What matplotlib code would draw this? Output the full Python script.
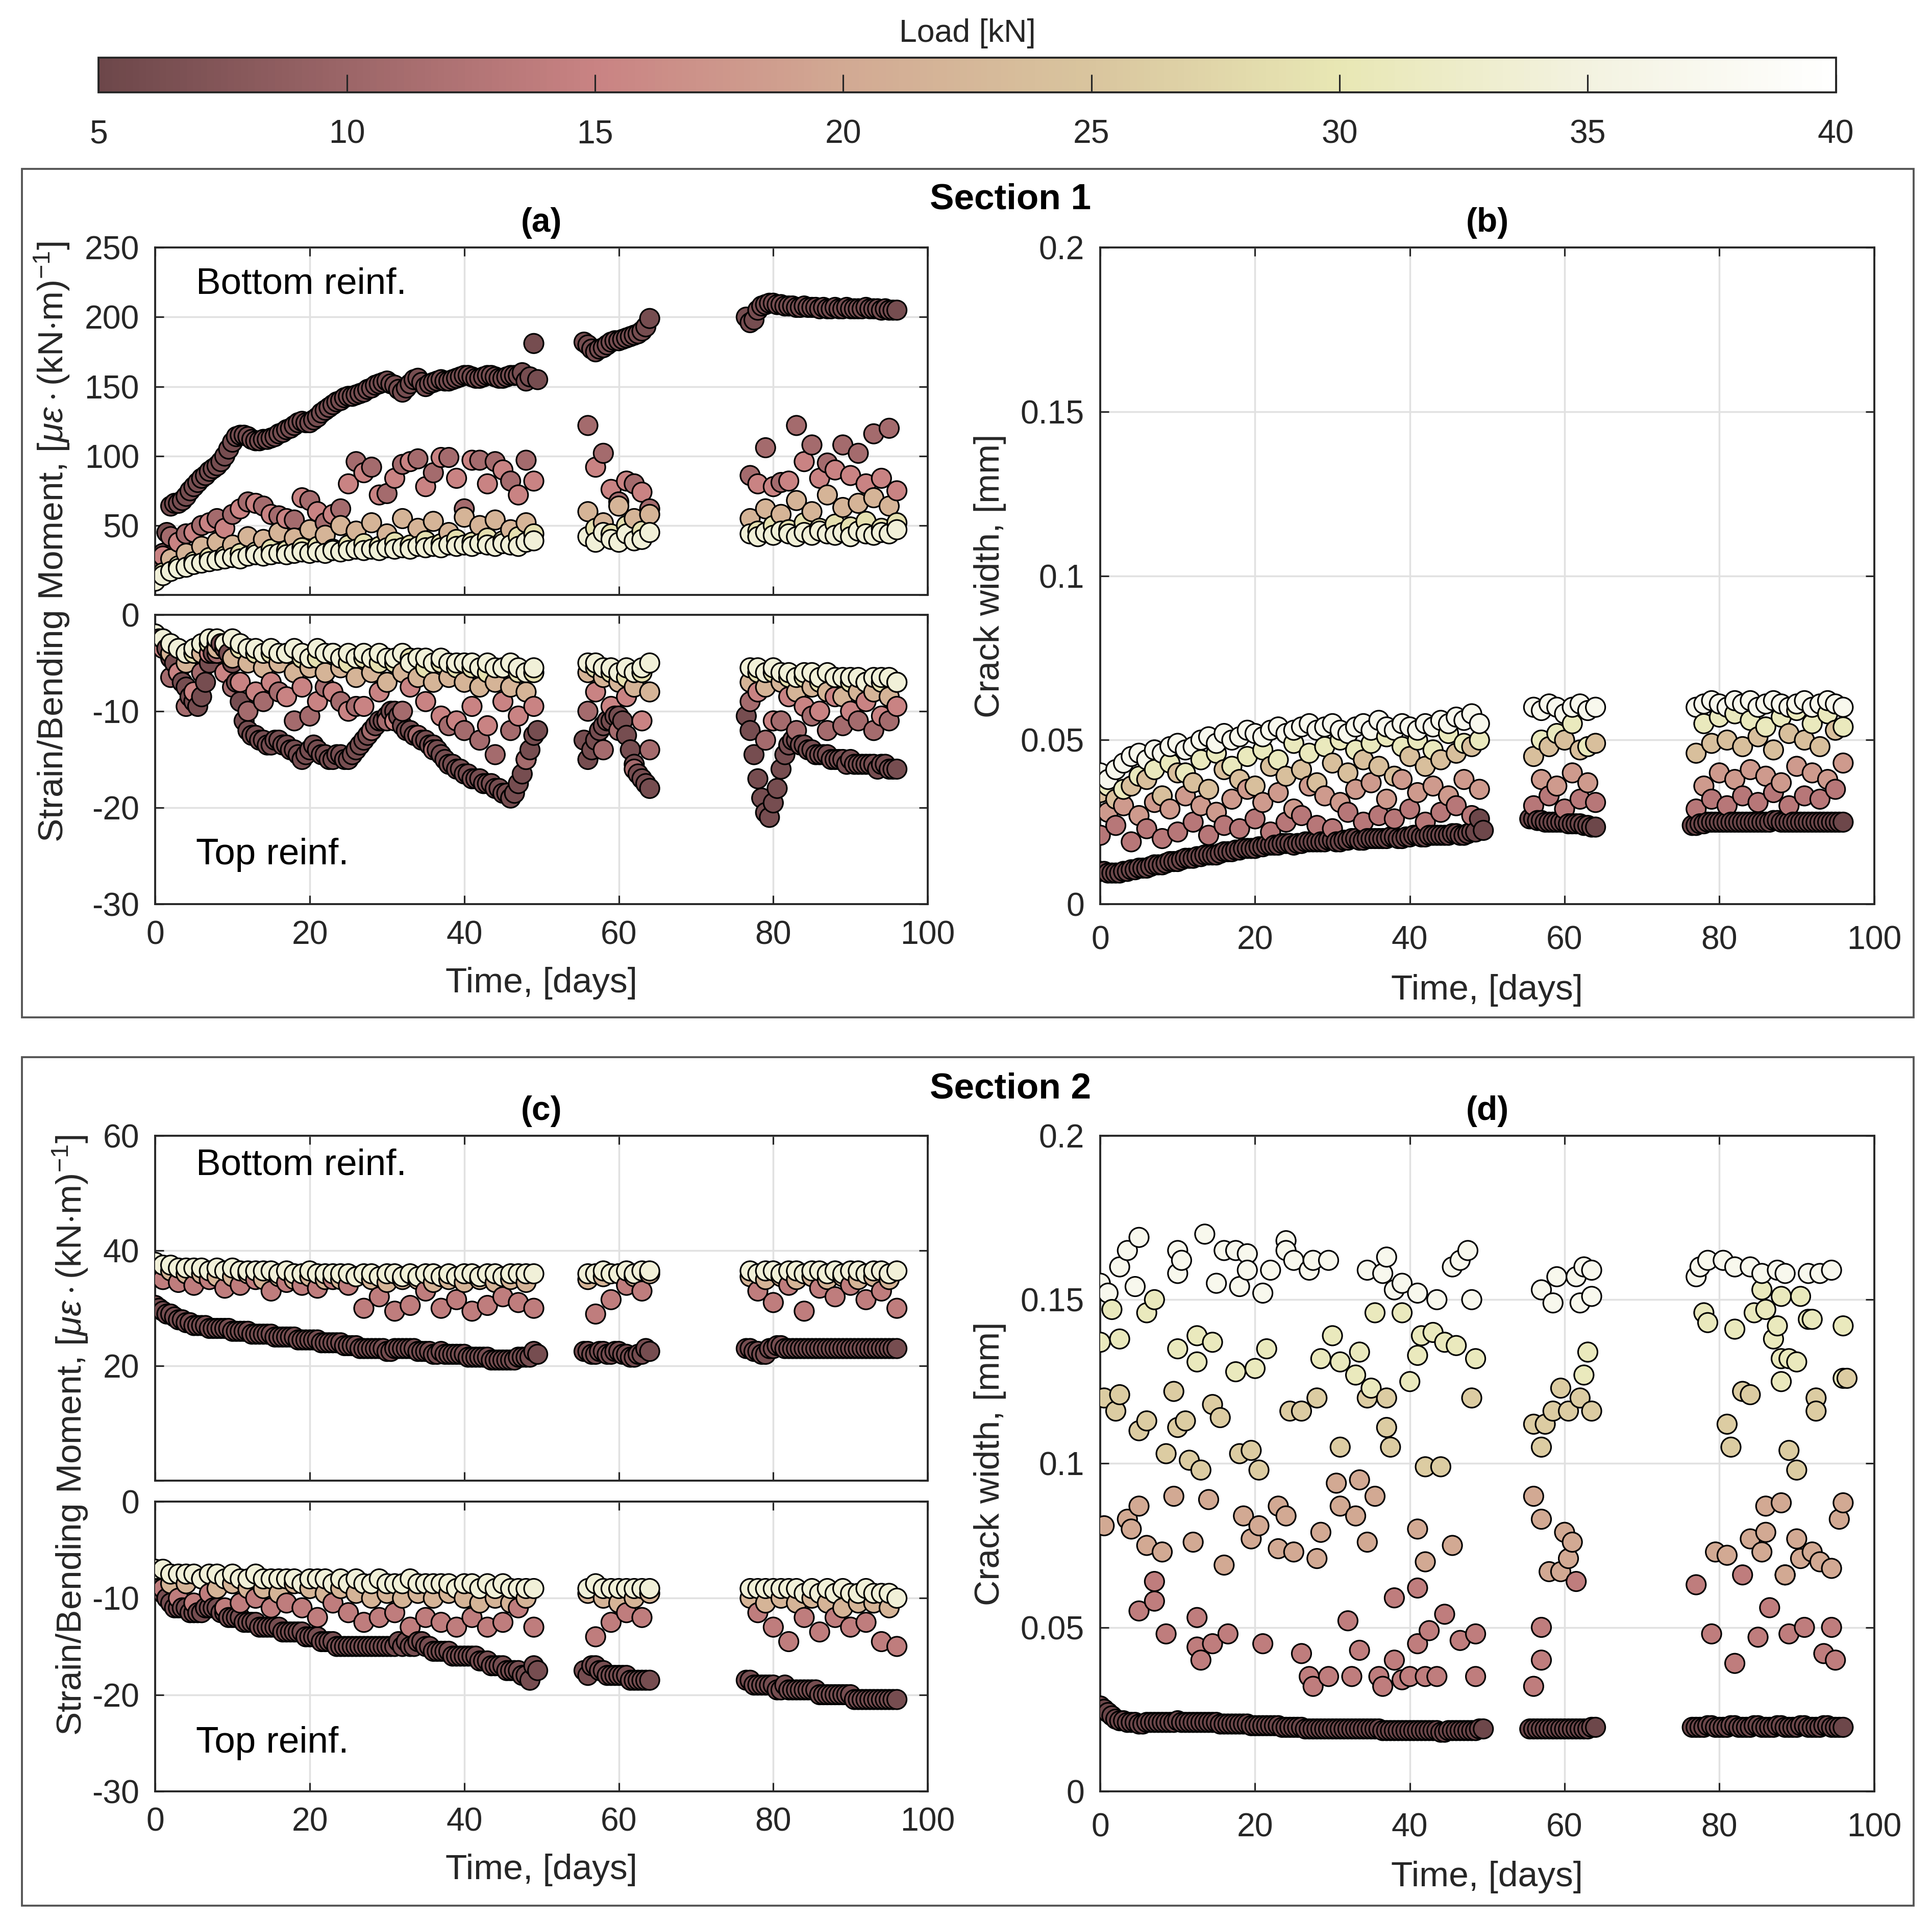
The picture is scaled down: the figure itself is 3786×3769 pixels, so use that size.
import numpy as np
import matplotlib
matplotlib.use('Agg')
import matplotlib.pyplot as plt
from matplotlib.colors import LinearSegmentedColormap, Normalize
from matplotlib.cm import ScalarMappable
from matplotlib.patches import Rectangle

plt.rcParams['font.family'] = ['Liberation Sans', 'DejaVu Sans']
plt.rcParams['mathtext.fontset'] = 'custom'
plt.rcParams['mathtext.rm'] = 'Liberation Sans'
plt.rcParams['mathtext.it'] = 'Liberation Sans:italic'
plt.rcParams['axes.unicode_minus'] = False

# ---------------- colour scale (load, kN) ----------------
cbar_loads = [5, 10, 15, 20, 25, 30, 35, 40]
cbar_colors = ['#6d474a', '#9c6668', '#c98383', '#d2a993', '#d9c59e',
               '#e8e7b4', '#f3f2e0', '#ffffff']

# ---------------- measurement days ----------------
# the 5 kN readings are logged every half day
days_half = np.concatenate([np.arange(0, 50, 0.5), np.arange(55.5, 64.5, 0.5),
                            np.arange(76.5, 96.5, 0.5)])
days = [0, 1, 2, 3, 4, 5, 6, 7, 8, 9, 10, 11, 12, 13, 14, 15, 16, 17, 18, 19,
        20, 21, 22, 23, 24, 25, 26, 27, 28, 29, 30, 31, 32, 33, 34, 35, 36, 37, 38, 39,
        40, 41, 42, 43, 44, 45, 46, 47, 48, 49,
        56, 57, 58, 59, 60, 61, 62, 63, 64,
        77, 78, 79, 80, 81, 82, 83, 84, 85, 86, 87, 88, 89, 90, 91, 92, 93, 94, 95, 96]
days_even = [0, 2, 4, 6, 8, 10, 12, 14, 16, 18, 20, 22, 24, 26, 28, 30, 32, 34, 36, 38,
             40, 42, 44, 46, 48,
             56, 58, 60, 62, 64,
             77, 79, 81, 83, 85, 87, 89, 91, 93, 95]
days_odd = [1, 3, 5, 7, 9, 11, 13, 15, 17, 19, 21, 23, 25, 27, 29, 31, 33, 35, 37, 39,
            41, 43, 45, 47, 49,
            57, 59, 61, 63,
            78, 80, 82, 84, 86, 88, 90, 92, 94, 96]

# ---------------- Section 1 ----------------
s1_loads = {'dark': 6, 'rose': 11, 'pink': 15, 'tan': 22, 'yellow': 29, 'pale': 34}

# (a) bottom reinforcement
a_bot_dark = [12, 18, 30, 45, 64, 66, 66, 68, 71, 75, 78, 81, 84, 86, 89, 91, 93, 96, 100, 105,
              110, 114, 115, 115, 114, 112, 111, 111, 112, 112, 113, 114, 116, 117, 119, 120,
              122, 124, 125, 124, 124, 126, 128, 131, 133, 135, 137, 139, 140, 142, 143, 143,
              144, 145, 146, 148, 149, 151, 152, 153, 154, 152, 151, 148, 146, 149, 152, 155,
              156, 153, 150, 152, 153, 154, 155, 154, 154, 155, 156, 157, 158, 158, 157, 156,
              156, 157, 158, 158, 157, 156, 156, 157, 158, 158, 158, 160, 154, 157, 181, 155,
              182, 180, 177, 175, 177, 178, 180, 182, 183, 183, 184, 185, 186, 187, 188, 190,
              193, 199,
              200, 196, 198, 205, 208, 209, 210, 210, 209, 209, 208, 208, 208, 207, 207, 208,
              207, 207, 207, 206, 207, 206, 206, 207, 206, 206, 207, 206, 206, 206, 206, 207,
              206, 206, 206, 205, 206, 205, 205, 205]
a_bot_rose = [20, 42, 44, 50, 55, 58, 67, 64, 57, 54, 68, 52, 62, 96, 92, 73, 94, 98, 88, 99,
              62, 97, 96, 82, 97,
              122, 102, 67, 80, 62,
              86, 106, 81, 122, 108, 95, 108, 102, 116, 120]
a_bot_pink = [28, 38, 45, 52, 48, 62, 66, 58, 55, 70, 60, 58, 80, 88, 72, 84, 96, 78, 99, 84,
              97, 80, 90, 72, 82,
              92, 76, 82, 74,
              80, 78, 82, 96, 84, 90, 86, 80, 84, 75]
a_bot_tan = [18, 26, 30, 35, 38, 36, 42, 40, 45, 41, 47, 43, 50, 46, 52, 44, 55, 48, 53, 45,
             56, 50, 54, 47, 52,
             60, 52, 64, 55, 58,
             55, 62, 58, 68, 60, 72, 63, 66, 70, 64]
a_bot_yellow = [16, 21, 24, 27, 28, 30, 31, 33, 32, 34, 35, 33, 36, 37, 35, 38, 36, 39, 37, 40,
                38, 41, 39, 42, 44,
                48, 44, 50, 46,
                46, 50, 47, 52, 48, 51, 49, 53, 48, 52]
a_bot_pale = [10, 14, 17, 19, 20, 22, 23, 24, 25, 26,
              27, 26, 28, 29, 28, 29, 30, 29, 30, 31,
              30, 31, 30, 32, 31, 32, 33, 32, 33, 32,
              34, 33, 34, 33, 35, 34, 35, 34, 36, 35,
              36, 35, 37, 36, 35, 37, 36, 35, 38, 39,
              42, 38, 45, 40, 38, 44, 39, 40, 45,
              44, 42, 45, 43, 46, 44, 42, 45, 43, 46,
              44, 43, 45, 42, 46, 44, 43, 45, 44, 47]

# (a) top reinforcement
a_top_dark = [-2, -2.5, -3, -3.5, -4.5, -5, -6, -7, -7.5, -8.5, -9, -9.5, -8.5, -7, -5, -4,
              -3, -3, -3.5, -4, -5, -7, -9, -11, -12, -12.5, -12.5, -13, -13, -13.5, -13.5,
              -13, -13, -13.5, -13.5, -14, -14, -14.5, -15, -14.5, -14, -13.5, -14, -14.5,
              -14.5, -15, -15, -14.5, -14.5, -15, -15, -14.5, -14, -13.5, -13, -12.5, -12,
              -11.5, -11, -11, -10.5, -10, -10, -10.5, -11.5, -12, -12, -12.5, -12.5, -13,
              -13, -13.5, -13.5, -14, -14.5, -15, -15.5, -15.5, -16, -16, -16.5, -16.5, -17,
              -17, -17, -17.5, -17.5, -17.5, -18, -18, -18.5, -18.5, -19, -18.5, -17.5,
              -16.5, -15, -14, -12.5, -12,
              -13, -15, -14, -13, -12, -11.5, -11, -11, -10.5, -10.5, -11, -12.5, -14, -15.5,
              -16.5, -17, -17.5, -18,
              -10.5, -12, -14.5, -17, -19, -20.5, -21, -19.5, -18, -16, -14.5, -13.5, -13,
              -13, -13.5, -13.5, -14, -14, -14.5, -14.5, -14.5, -14.5, -15, -15, -15, -15,
              -15.5, -15, -15.5, -15.5, -15.5, -15.5, -15.5, -15.5, -16, -15.5, -15.5, -16,
              -16, -16]
a_top_rose = [-3, -6.5, -9.5, -6, -4, -7.5, -10, -9, -8, -11, -10.5, -7.5, -9, -9.5, -12,
              -11, -10, -12.5, -14, -11.5, -12, -13, -14.5, -12, -15,
              -10, -14, -12, -16, -14,
              -9, -13, -11, -12, -10.5, -12, -11.5, -11, -12, -11]
a_top_pink = [-3.5, -6, -8, -4, -6, -7, -8, -7, -8.5, -7.5, -9, -8, -10, -9.5, -8,
              -11, -7.5, -9, -10.5, -11, -9.5, -11.5, -9, -10.5, -9.5,
              -8, -9.5, -8.5, -11,
              -8, -11, -8.5, -9.5, -10, -8.5, -10, -9, -10.5, -9.5]
a_top_tan = [-2.5, -4, -5, -4, -3.5, -4.5, -5, -5.5, -5, -6, -5.5, -6, -5.5, -6.5, -6,
             -7, -6, -6.5, -7, -6.5, -7, -7.5, -7, -7.5, -8,
             -6, -6.5, -7, -7.5, -8,
             -7, -7.5, -7, -8, -7.5, -8, -8.5, -8, -8, -8.5]
a_top_yellow = [-2.5, -3.5, -4, -3, -3, -3.5, -4, -4, -4, -4.5, -4.5, -4, -5, -4.5, -5,
                -5, -4.5, -5.5, -5, -5.5, -5.5, -6, -5.5, -6, -6,
                -5.5, -6, -6.5, -6,
                -6, -6, -6.5, -6.5, -7, -6.5, -7, -7, -7, -7]
a_top_pale = [-2, -2.5, -3, -3.5, -4, -3.5, -3, -2.5, -2.5, -3,
              -2.5, -3, -3.5, -3.5, -4, -3.5, -4, -4, -3.5, -4,
              -4.5, -3.5, -4, -4, -4.5, -4, -4.5, -4, -4.5, -4,
              -4.5, -4.5, -4, -5, -4.5, -4.5, -5, -4.5, -5, -5,
              -5, -5, -5.5, -5, -5.5, -5.5, -5, -5.5, -6, -5.5,
              -5, -5, -5.5, -5.5, -6, -5.5, -6, -5.5, -5,
              -5.5, -5.5, -6, -5.5, -6, -6, -6.5, -6, -6, -6.5,
              -6, -6.5, -6.5, -6.5, -6.5, -7, -6.5, -6.5, -6.5, -7]

# (b) crack width, section 1
b_loads = {'dark': 5, 'pink': 13, 'salmon': 18, 'tan': 24, 'yellow': 31, 'pale': 37}
b_dark = [.010, .010, .0095, .0095, .0095, .0095, .010, .010, .0105, .0105,
          .011, .011, .011, .0115, .012, .012, .012, .0125, .013, .013,
          .013, .0135, .014, .014, .014, .0145, .0145, .015, .015, .015,
          .015, .0155, .016, .016, .016, .0165, .0165, .017, .017, .017,
          .017, .0175, .0175, .018, .018, .018, .018, .0185, .0185, .0185,
          .018, .0185, .0185, .019, .019, .019, .019, .019, .019, .0195,
          .0195, .019, .019, .0195, .0195, .020, .020, .0195, .0195, .020,
          .020, .020, .020, .020, .020, .0205, .0205, .020, .020, .0205,
          .0205, .021, .021, .0205, .0205, .021, .021, .021, .021, .021,
          .021, .0215, .0215, .021, .021, .0215, .022, .022, .026, .0225,
          .026, .026, .0255, .0255, .025, .025, .025, .025, .025, .025, .0245, .0245,
          .0245, .0245, .024, .024, .0235, .0235,
          .024, .024, .0245, .0245, .025, .025, .025, .025, .025, .025, .025, .025,
          .025, .025, .025, .025, .025, .025, .025, .025, .025, .0255, .0255, .025,
          .025, .025, .025, .025, .025, .025, .025, .025, .025, .025, .025, .025,
          .025, .025, .025, .025]
b_pink = [.021, .024, .019, .023, .020, .022, .025, .021, .024, .023, .026, .022, .025,
          .027, .024, .023, .028, .025, .027, .026, .029, .025, .028, .030, .027,
          .030, .033, .029, .032, .031,
          .029, .032, .030, .033, .031, .034, .030, .033, .032, .035]
b_salmon = [.028, .030, .027, .031, .029, .033, .030, .028, .032, .035, .031, .034, .029,
            .036, .033, .031, .035, .037, .032, .038, .034, .036, .033, .038, .035,
            .038, .036, .040, .037,
            .036, .040, .038, .041, .039, .037, .042, .040, .038, .043]
b_tan = [.034, .032, .036, .038, .033, .040, .037, .035, .041, .038, .036, .042, .039,
         .041, .037, .043, .040, .044, .042, .039, .045, .042, .044, .046, .048,
         .045, .048, .050, .047, .049,
         .046, .049, .050, .048, .051, .047, .052, .050, .048, .053]
b_yellow = [.036, .035, .039, .041, .043, .040, .044, .046, .042, .045, .047, .044, .049,
            .046, .048, .050, .047, .049, .051, .048, .050, .047, .052, .049, .050,
            .050, .052, .055, .048,
            .055, .057, .058, .056, .054, .057, .059, .055, .058, .054]
b_pale = [.040, .038, .041, .043, .045, .046, .044, .047, .046, .048,
          .049, .047, .048, .050, .051, .049, .052, .050, .051, .053,
          .052, .051, .053, .054, .052, .053, .054, .055, .053, .054,
          .055, .053, .052, .054, .055, .053, .056, .054, .053, .055,
          .054, .053, .055, .054, .056, .055, .057, .056, .058, .055,
          .060, .059, .061, .060, .058, .060, .061, .059, .060,
          .060, .061, .062, .061, .060, .062, .061, .062, .060, .061,
          .062, .061, .060, .061, .062, .060, .061, .062, .061, .060]

# ---------------- Section 2 ----------------
s2_loads = {'dark': 6, 'pink': 14, 'tan': 22, 'pale': 34}

# (c) bottom reinforcement
c_bot_dark = [30.5, 30, 29.5, 29, 29, 28.5, 28, 28, 27.5, 27.5,
              27, 27, 27, 27, 26.5, 26.5, 26.5, 26.5, 26.5, 26.5,
              26, 26, 26, 26, 26, 25.5, 25.5, 25.5, 25.5, 25.5,
              25.5, 25, 25, 25, 25, 25, 25, 24.5, 24.5, 24.5,
              24.5, 24.5, 24.5, 24, 24, 24, 24, 24, 24, 23.5,
              23.5, 23.5, 23.5, 23, 23, 23, 23, 23, 23, 23,
              22.5, 22.5, 23, 23, 23, 23, 23, 23, 22.5, 22.5,
              22.5, 22.5, 22, 22, 22.5, 22, 22, 22, 22, 22,
              22, 21.5, 21.5, 21.5, 21.5, 21.5, 21.5, 21, 21, 21,
              21, 21, 21, 21, 21.5, 21.5, 21.5, 21.5, 22.5, 22,
              22.5, 22.5, 22, 22, 22.5, 22.5, 22, 22, 22.5, 22.5, 22, 22, 21.5, 21.5,
              22, 22, 23, 22.5,
              23, 23, 22.5, 22.5, 22, 22, 23, 23, 23.5, 23.5, 23, 23, 23, 23, 23, 23,
              23, 23, 23, 23, 23, 23, 23, 23, 23, 23, 23, 23, 23, 23, 23, 23, 23, 23,
              23, 23, 23, 23, 23, 23]
c_bot_pink = [35, 34.5, 34, 35, 33.5, 34, 35, 33, 34.5, 34, 33.5, 35, 34, 30, 32,
              29.5, 30.5, 33, 30, 31.5, 29.5, 30.5, 32, 31, 30,
              29, 31.5, 34, 33,
              33, 31, 34, 29.5, 33.5, 32, 34, 31.5, 33, 30]
c_bot_tan = [37, 36.5, 36, 36, 35.5, 35.5, 36, 35, 35.5, 35, 35.5, 35, 35, 35.5, 35,
             34.5, 35, 35, 34.5, 35, 34.5, 35, 34.5, 35, 34.5,
             35, 35.5, 36, 35.5, 36,
             35.5, 35, 35.5, 35, 35.5, 35, 35.5, 35, 35.5, 35]
c_bot_pale = [38, 37.5, 37.5, 37, 37, 37, 37, 36.5, 37, 36.5,
              37, 36.5, 36.5, 36.5, 36.5, 36.5, 36, 36.5, 36, 36,
              36.5, 36, 36, 36, 36, 36, 35.5, 36, 36, 35.5,
              36, 36, 35.5, 36, 35.5, 36, 36, 35.5, 36, 35.5,
              36, 36, 35.5, 36, 36, 35.5, 36, 36, 36, 36,
              36, 36, 36.5, 36, 36, 36.5, 36, 36.5, 36.5,
              36.5, 36, 36.5, 36.5, 36, 36.5, 36.5, 36, 36.5, 36.5,
              36, 36.5, 36, 36.5, 36.5, 36, 36.5, 36.5, 36, 36.5]

# (c) top reinforcement
c_top_dark = [-8, -9, -9.5, -10, -10.5, -11, -11, -11, -11, -11.5,
              -11.5, -11.5, -11.5, -11, -11, -11, -11, -11.5, -11.5, -12,
              -12, -12, -12, -12.5, -12.5, -12.5, -12.5, -13, -13, -13,
              -13, -13, -13, -13.5, -13.5, -13.5, -13.5, -13.5, -13.5, -14,
              -14, -14, -14, -14.5, -14.5, -14.5, -14.5, -15, -15, -15,
              -15, -15, -15, -15, -15, -15, -15, -15, -15, -15,
              -15, -15, -15, -14.5, -15, -14.5, -15, -15, -14.5, -14.5,
              -15, -15, -15.5, -15.5, -15.5, -15.5, -15.5, -16, -16, -16,
              -16, -16, -16, -16, -16.5, -16.5, -16.5, -17, -17, -17,
              -17, -17.5, -17.5, -17.5, -17.5, -18, -18, -18.5, -17, -17.5,
              -17.5, -18, -17, -17, -17.5, -17.5, -18, -18, -18, -18, -18, -18, -18.5,
              -18.5, -18.5, -18.5, -18.5, -18.5,
              -18.5, -18.5, -19, -19, -19, -19, -19, -19, -19.5, -19.5, -19, -19.5,
              -19.5, -19.5, -19.5, -19.5, -19.5, -19.5, -19.5, -20, -20, -20, -20, -20,
              -20, -20, -20, -20, -20.5, -20.5, -20.5, -20.5, -20.5, -20.5, -20.5, -20.5,
              -20.5, -20.5, -20.5, -20.5]
c_top_pink = [-9, -10, -10.5, -9.5, -11, -10.5, -10, -11, -10.5, -11, -12, -10.5, -11.5,
              -12.5, -12, -11.5, -13, -12, -12.5, -13, -12, -13, -12.5, -11, -13,
              -14, -12.5, -11.5, -12,
              -11.5, -13, -14.5, -12, -13.5, -12, -13, -12.5, -14.5, -15]
c_top_tan = [-7.5, -8.5, -8.5, -8, -9, -8.5, -9, -9, -9.5, -8.5, -9, -9.5, -9, -9.5, -10,
             -9.5, -10, -9.5, -10, -9.5, -10, -10.5, -10, -10.5, -10,
             -9.5, -10, -10.5, -10, -9.5,
             -10, -10.5, -10, -10.5, -10, -10.5, -11, -10.5, -10.5, -11]
c_top_pale = [-7, -7, -7.5, -7.5, -7.5, -7.5, -8, -7.5, -7.5, -8,
              -7.5, -8, -8, -7.5, -8, -8, -8, -8, -8, -8.5,
              -8, -8, -8, -8.5, -8, -8.5, -8, -8.5, -8.5, -8,
              -8.5, -8.5, -8.5, -8, -8.5, -8.5, -8.5, -8.5, -8.5, -9,
              -8.5, -8.5, -9, -8.5, -9, -8.5, -9, -9, -9, -9,
              -9, -8.5, -9, -9, -9, -9, -9, -9, -9,
              -9, -9, -9, -9, -9, -9, -9, -9.5, -9, -9.5,
              -9, -9.5, -9, -9.5, -9.5, -9, -9.5, -9.5, -9.5, -10]

# (d) crack width, section 2
d_loads = {'dark': 5, 'pink': 14, 'salmon': 20, 'tan': 26, 'yellow': 31, 'pale': 37}
d_dark = [.026, .025, .024, .023, .022, .0215, .0215, .021, .021, .021,
          .0205, .0205, .021, .021, .021, .021, .021, .021, .021, .021,
          .0215, .021, .021, .021, .021, .021, .021, .021, .021, .021,
          .021, .0205, .0205, .0205, .0205, .0205, .0205, .0205, .0205, .020,
          .020, .020, .020, .020, .020, .020, .020, .0195, .0195, .0195,
          .0195, .0195, .0195, .019, .019, .019, .019, .019, .019, .019,
          .019, .019, .019, .019, .019, .019, .019, .019, .019, .019,
          .019, .019, .019, .0185, .0185, .0185, .0185, .0185, .0185, .0185,
          .0185, .0185, .0185, .0185, .0185, .0185, .0185, .0185, .018, .018,
          .0185, .0185, .0185, .0185, .0185, .0185, .0185, .0185, .019, .019,
          .019, .019, .019, .019, .019, .019, .019, .019, .019, .019, .019, .019,
          .019, .019, .019, .019, .0195, .0195,
          .0195, .0195, .0195, .0195, .020, .020, .0195, .0195, .0195, .0195, .020, .020,
          .0195, .0195, .0195, .0195, .020, .020, .0195, .0195, .0195, .0195, .020, .020,
          .0195, .0195, .0195, .0195, .020, .020, .0195, .0195, .0195, .0195, .020, .020,
          .0195, .0195, .0195, .0195]
d_pink_t = [5, 7, 7, 8.5, 12.5, 12.5, 13, 14.5, 16.5, 21, 26, 27, 27.5, 29.5, 32,
            32.5, 33.5, 36, 36.5, 38, 38, 39, 40, 41, 41, 42.5, 42, 43.5, 44.5, 46.5,
            48.5, 48.5, 56, 57, 57, 61.5, 77, 79, 82, 83, 85, 86.5, 88.5, 89, 91,
            93.5, 94.5, 95]
d_pink_w = [.055, .064, .058, .048, .053, .044, .040, .045, .048, .045, .042, .035, .032,
            .035, .052, .035, .043, .035, .032, .059, .040, .034, .035, .045, .062, .049,
            .035, .035, .054, .046, .048, .035, .032, .040, .050, .064, .063, .048, .039,
            .066, .047, .056, .066, .048, .050, .042, .050, .040]
d_salmon_t = [0.5, 3.5, 5, 4, 6, 8, 9.5, 12, 14, 16, 18.5, 19.5, 20.5, 23, 24, 23, 25,
              28, 28.5, 30.5, 31, 33, 33.5, 34.5, 35.5, 41, 42, 45.5, 56, 57, 58, 60, 61,
              60.5, 59.5, 79.5, 81, 84, 85.5, 86, 88, 86, 88.5, 90, 90.5, 92, 93, 94.5,
              96, 95.5]
d_salmon_w = [.081, .083, .087, .080, .075, .073, .090, .076, .089, .069, .084, .077,
              .081, .087, .084, .074, .073, .071, .079, .094, .087, .084, .095, .076,
              .090, .080, .070, .075, .090, .083, .067, .079, .076, .071, .067, .073,
              .072, .077, .073, .087, .088, .079, .066, .077, .071, .073, .070, .068,
              .088, .083]
d_tan_t = [0.5, 2.5, 2, 5, 6, 8.5, 9.5, 10, 11, 11.5, 13, 14.5, 15.5, 18, 19.5, 20.5,
           24.5, 26, 28, 31, 34.5, 37, 37, 37.5, 42, 44, 48, 56, 57, 57.5, 58.5, 59.5,
           60.5, 62, 63.5, 81, 81.5, 83, 84, 89, 90, 92.5, 92.5, 96.5]
d_tan_w = [.120, .121, .116, .110, .113, .103, .122, .111, .113, .101, .098, .118, .114,
           .103, .104, .098, .116, .116, .120, .105, .120, .120, .111, .105, .099, .099,
           .120, .112, .105, .112, .116, .123, .116, .120, .116, .112, .105, .122, .121,
           .104, .098, .120, .116, .126]
d_yellow_t = [0, 2.5, 1.5, 6, 7, 10, 12.5, 12.5, 14.5, 17.5, 20, 21.5, 28.5, 30, 31, 33,
              33.5, 35.5, 35, 39, 40, 41, 41.5, 43, 44.5, 46, 48.5, 63, 62.5, 78, 78.5,
              82, 84.5, 86, 87.5, 87, 88, 89, 90, 91.5, 88, 96, 96, 85.5, 88, 90.5, 92]
d_yellow_w = [.137, .138, .147, .146, .150, .135, .139, .131, .137, .128, .129, .135,
              .132, .139, .131, .127, .134, .146, .123, .146, .125, .133, .139, .140,
              .137, .136, .132, .134, .127, .146, .143, .141, .146, .147, .142, .138,
              .132, .132, .131, .144, .125, .142, .126, .153, .151, .151, .144]
d_pale_t = [0, 1, 2.5, 3.5, 5, 4.5, 10, 10, 10.5, 13.5, 15, 16, 17.5, 18, 19, 19, 21, 22,
            24, 24, 25, 27, 27.5, 29.5, 34.5, 37, 36.5, 38, 39, 41, 43.5, 45.5, 46.5,
            47.5, 48, 57, 59, 58.5, 61.5, 62.5, 63.5, 63.5, 62, 77, 77.5, 78.5, 80.5, 82,
            84, 85.5, 87.5, 88.5, 91.5, 93, 94.5]
d_pale_w = [.155, .152, .160, .165, .169, .154, .165, .158, .162, .170, .155, .165, .165,
            .154, .164, .159, .152, .159, .168, .165, .162, .159, .162, .162, .159, .163,
            .158, .153, .155, .152, .150, .160, .162, .165, .150, .153, .157, .149, .157,
            .160, .159, .151, .149, .157, .160, .162, .162, .160, .160, .158, .159, .158,
            .158, .158, .159]

# ---------------- helpers ----------------
cmap = LinearSegmentedColormap.from_list(
    'load', [((l - 5) / 35.0, c) for l, c in zip(cbar_loads, cbar_colors)])
norm = Normalize(vmin=5, vmax=40)
INK = '#262626'
TICK_FS = 18.5
LABEL_FS = 20


def draw_points(ax, groups):
    for tt, vv, ld in groups:
        assert len(tt) == len(vv), (len(tt), len(vv), ld)
    t = np.concatenate([np.asarray(g[0], float) for g in groups])
    v = np.concatenate([np.asarray(g[1], float) for g in groups])
    c = np.concatenate([np.full(len(g[0]), g[2], float) for g in groups])
    order = np.argsort(t, kind='stable')  # plotted in time order
    ax.scatter(t[order], v[order], c=c[order], cmap=cmap, norm=norm, s=120,
               edgecolors='black', linewidths=0.9, zorder=3)


def style_axes(ax, show_x=True, xpad=9):
    ax.set_xlim(0, 100)
    ax.set_xticks([0, 20, 40, 60, 80, 100])
    if not show_x:
        ax.set_xticklabels([])
    ax.grid(True, color='#e1e1e1', linewidth=1.0)
    ax.set_axisbelow(True)
    ax.tick_params(direction='in', top=True, right=True, length=5, width=0.9,
                   colors=INK, labelsize=TICK_FS, pad=9)
    ax.tick_params(axis='x', pad=xpad)
    for sp in ax.spines.values():
        sp.set_color(INK)
        sp.set_linewidth(1.1)


# ---------------- figure ----------------
fig = plt.figure(figsize=(3786 / 250, 3769 / 250), dpi=250)
W, H = 1568.0, 1561.0


def box(x0, y0, x1, y1):
    # pixel box (of the 1568x1561 layout) -> figure fraction rect
    return [x0 / W, 1 - y1 / H, (x1 - x0) / W, (y1 - y0) / H]


# colour bar
cax = fig.add_axes(box(80, 47, 1490, 75))
cb = fig.colorbar(ScalarMappable(norm=norm, cmap=cmap), cax=cax, orientation='horizontal')
cb.set_ticks(cbar_loads)
cax.tick_params(direction='in', length=10, width=0.9, colors=INK, labelsize=TICK_FS, pad=15)
cb.outline.set_edgecolor(INK)
cb.outline.set_linewidth(1.1)
fig.text(785 / W, 1 - 27 / H, 'Load [kN]', ha='center', va='center', fontsize=18, color=INK)

# section frames
for y0, y1 in [(137, 826), (858, 1547)]:
    r = box(18, y0, 1553, y1)
    fig.add_artist(Rectangle((r[0], r[1]), r[2], r[3], transform=fig.transFigure,
                             fill=False, edgecolor='#555555', linewidth=1.1))

fig.text(820 / W, 1 - 162 / H, 'Section 1', ha='center', va='center',
         fontsize=20.5, fontweight='bold', color='black')
fig.text(820 / W, 1 - 884 / H, 'Section 2', ha='center', va='center',
         fontsize=20.5, fontweight='bold', color='black')

ylab_strain = r'Strain/Bending Moment, [$\mu\varepsilon\cdot$(kN$\cdot$m)$^{-1}$]'

# ----- Section 1 -----
ax_a1 = fig.add_axes(box(126, 201, 753, 483))
draw_points(ax_a1, [(days_half, a_bot_dark, s1_loads['dark']),
                    (days_even, a_bot_rose, s1_loads['rose']),
                    (days_odd, a_bot_pink, s1_loads['pink']),
                    (days_even, a_bot_tan, s1_loads['tan']),
                    (days_odd, a_bot_yellow, s1_loads['yellow']),
                    (days, a_bot_pale, s1_loads['pale'])])
style_axes(ax_a1, show_x=False)
ax_a1.set_ylim(0, 250)
ax_a1.set_yticks([0, 50, 100, 150, 200, 250])
ax_a1.set_yticklabels(['', '50', '100', '150', '200', '250'])
ax_a1.text(0.053, 0.895, 'Bottom reinf.', transform=ax_a1.transAxes, fontsize=21,
           ha='left', va='center', color='black')
ax_a1.set_title('(a)', fontsize=19, fontweight='bold', pad=9)

ax_a2 = fig.add_axes(box(126, 499, 753, 734))
draw_points(ax_a2, [(days_half, a_top_dark, s1_loads['dark']),
                    (days_even, a_top_rose, s1_loads['rose']),
                    (days_odd, a_top_pink, s1_loads['pink']),
                    (days_even, a_top_tan, s1_loads['tan']),
                    (days_odd, a_top_yellow, s1_loads['yellow']),
                    (days, a_top_pale, s1_loads['pale'])])
style_axes(ax_a2)
ax_a2.set_ylim(-30, 0)
ax_a2.set_yticks([-30, -20, -10, 0])
ax_a2.text(0.053, 0.17, 'Top reinf.', transform=ax_a2.transAxes, fontsize=21,
           ha='left', va='center', color='black')
ax_a2.set_xlabel('Time, [days]', fontsize=LABEL_FS, color=INK, labelpad=9)
fig.text(42 / W, 1 - 440 / H, ylab_strain, rotation=90, ha='center', va='center',
         fontsize=LABEL_FS, color=INK)

ax_b = fig.add_axes(box(893, 201, 1521, 734))
draw_points(ax_b, [(days_half, b_dark, b_loads['dark']),
                   (days_even, b_pink, b_loads['pink']),
                   (days_odd, b_salmon, b_loads['salmon']),
                   (days_even, b_tan, b_loads['tan']),
                   (days_odd, b_yellow, b_loads['yellow']),
                   (days, b_pale, b_loads['pale'])])
style_axes(ax_b, xpad=12)
ax_b.set_ylim(0, 0.2)
ax_b.set_yticks([0, 0.05, 0.1, 0.15, 0.2])
ax_b.set_yticklabels(['0', '0.05', '0.1', '0.15', '0.2'])
ax_b.set_title('(b)', fontsize=19, fontweight='bold', pad=9)
ax_b.set_xlabel('Time, [days]', fontsize=LABEL_FS, color=INK, labelpad=10)
ax_b.set_ylabel('Crack width, [mm]', fontsize=LABEL_FS, color=INK, labelpad=8)

# ----- Section 2 -----
ax_c1 = fig.add_axes(box(126, 922, 753, 1202))
draw_points(ax_c1, [(days_half, c_bot_dark, s2_loads['dark']),
                    (days_odd, c_bot_pink, s2_loads['pink']),
                    (days_even, c_bot_tan, s2_loads['tan']),
                    (days, c_bot_pale, s2_loads['pale'])])
style_axes(ax_c1, show_x=False)
ax_c1.set_ylim(0, 60)
ax_c1.set_yticks([0, 20, 40, 60])
ax_c1.set_yticklabels(['', '20', '40', '60'])
ax_c1.text(0.053, 0.915, 'Bottom reinf.', transform=ax_c1.transAxes, fontsize=21,
           ha='left', va='center', color='black')
ax_c1.set_title('(c)', fontsize=19, fontweight='bold', pad=9)

ax_c2 = fig.add_axes(box(126, 1219, 753, 1454))
draw_points(ax_c2, [(days_half, c_top_dark, s2_loads['dark']),
                    (days_odd, c_top_pink, s2_loads['pink']),
                    (days_even, c_top_tan, s2_loads['tan']),
                    (days, c_top_pale, s2_loads['pale'])])
style_axes(ax_c2)
ax_c2.set_ylim(-30, 0)
ax_c2.set_yticks([-30, -20, -10, 0])
ax_c2.text(0.053, 0.166, 'Top reinf.', transform=ax_c2.transAxes, fontsize=21,
           ha='left', va='center', color='black')
ax_c2.set_xlabel('Time, [days]', fontsize=LABEL_FS, color=INK, labelpad=9)
fig.text(57 / W, 1 - 1165 / H, ylab_strain, rotation=90, ha='center', va='center',
         fontsize=LABEL_FS, color=INK)

ax_d = fig.add_axes(box(893, 922, 1521, 1454))
draw_points(ax_d, [(days_half, d_dark, d_loads['dark']),
                   (d_pink_t, d_pink_w, d_loads['pink']),
                   (d_salmon_t, d_salmon_w, d_loads['salmon']),
                   (d_tan_t, d_tan_w, d_loads['tan']),
                   (d_yellow_t, d_yellow_w, d_loads['yellow']),
                   (d_pale_t, d_pale_w, d_loads['pale'])])
style_axes(ax_d, xpad=12)
ax_d.set_ylim(0, 0.2)
ax_d.set_yticks([0, 0.05, 0.1, 0.15, 0.2])
ax_d.set_yticklabels(['0', '0.05', '0.1', '0.15', '0.2'])
ax_d.set_title('(d)', fontsize=19, fontweight='bold', pad=9)
ax_d.set_xlabel('Time, [days]', fontsize=LABEL_FS, color=INK, labelpad=10)
ax_d.set_ylabel('Crack width, [mm]', fontsize=LABEL_FS, color=INK, labelpad=8)

fig.savefig('out.png', dpi=250)
